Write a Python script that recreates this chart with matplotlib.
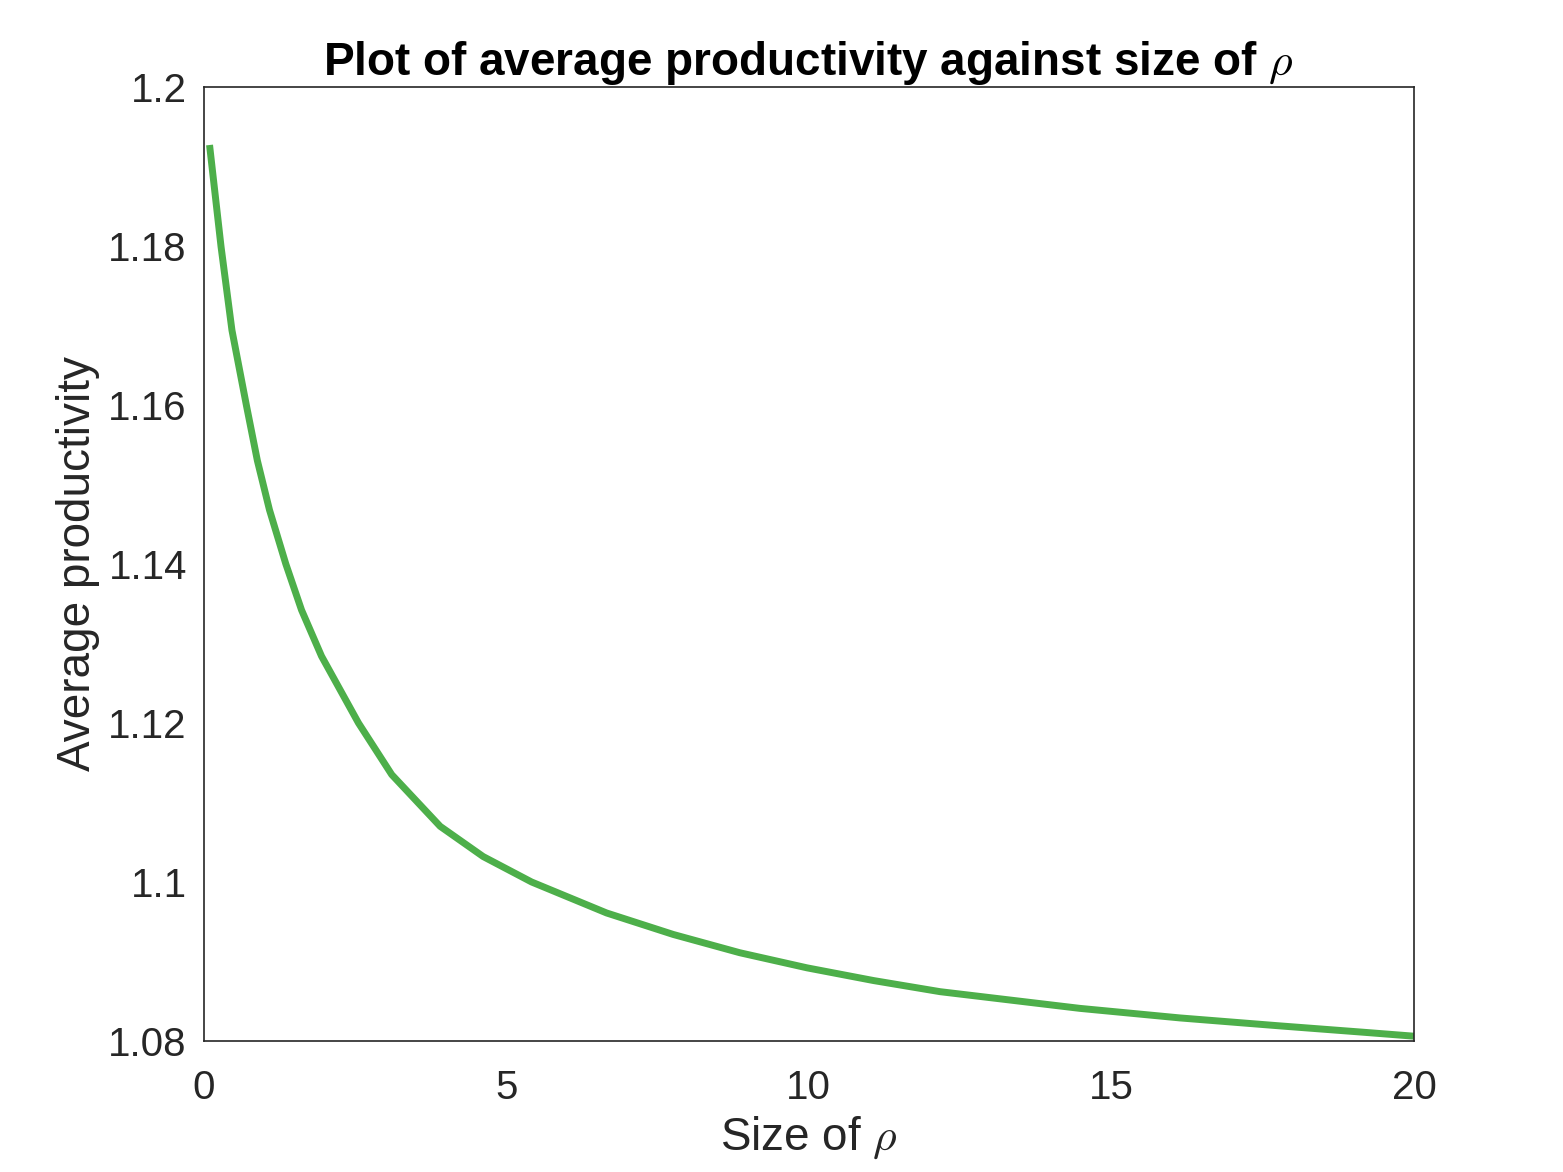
import matplotlib
matplotlib.use("Agg")
import matplotlib.pyplot as plt

# values
rho = [0.1, 0.29, 0.47, 0.71, 0.89, 1.09, 1.36, 1.62, 1.95, 2.56, 3.11,
       3.91, 4.62, 5.42, 6.66, 7.76, 8.86, 9.97, 11.07, 12.17, 12.83,
       14.48, 16.13, 17.78, 19.16, 20.0]
avg_prod = [1.1927, 1.1799, 1.1694, 1.1599, 1.1530, 1.1468, 1.1400, 1.1342,
            1.1284, 1.1200, 1.1135, 1.1070, 1.1032, 1.1000, 1.0961, 1.0934,
            1.0911, 1.0892, 1.0876, 1.0862, 1.0856, 1.0841, 1.0829, 1.0819,
            1.0811, 1.0806]

yticks = [1.08, 1.1, 1.12, 1.14, 1.16, 1.18, 1.2]
xticks = [0, 5, 10, 15, 20]

plt.rcParams['font.family'] = ['Liberation Sans', 'DejaVu Sans']
plt.rcParams['mathtext.fontset'] = 'cm'
txt = '#262626'

fig = plt.figure(figsize=(15.63, 11.72), dpi=100)
ax = fig.add_axes([0.1302, 0.1118, 0.7745, 0.814])
ax.plot(rho, avg_prod, color='#4daf4a', linewidth=5,
        solid_capstyle='butt', solid_joinstyle='round')

ax.set_xlim(0, 20)
ax.set_ylim(1.08, 1.2)
ax.set_xticks(xticks)
ax.set_yticks(yticks)
ax.set_yticklabels([f"{v:g}" for v in yticks])
ax.tick_params(length=0, labelsize=29, labelcolor=txt)
ax.tick_params(axis='y', pad=12)
ax.tick_params(axis='x', pad=20)
for s in ax.spines.values():
    s.set_linewidth(1.2)
    s.set_color(txt)

ax.set_xlabel(r"Size of $\rho$", fontsize=33, color=txt, labelpad=6)
ax.set_ylabel("Average productivity", fontsize=33, color=txt, labelpad=6)
ax.set_title(r"Plot of average productivity against size of $\rho$",
             fontsize=33, fontweight='bold', pad=8)

fig.savefig("out.png", dpi=100)
